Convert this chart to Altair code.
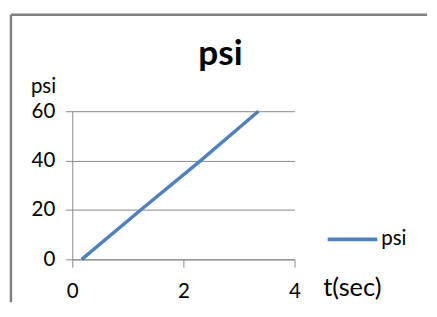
import altair as alt
import pandas as pd

# data
t_sec = [0.17, 1.23, 2.31, 3.35]
psi = [0, 20, 40, 60]
series = ["psi", "psi", "psi", "psi"]
x_ticks = [0, 2, 4]
y_ticks = [0, 20, 40, 60]

FONT = "Lato"
BLUE = "#4F81BD"
GRAY = "#868686"
BORDER = "#808080"

df = pd.DataFrame({"t": t_sec, "psi": psi, "series": series})
one = pd.DataFrame({"k": [0]})

line = alt.Chart(df).mark_line(strokeWidth=3.5, color=BLUE).encode(
    x=alt.X("t:Q",
            scale=alt.Scale(domain=[0, 4], nice=False, zero=False),
            axis=alt.Axis(values=x_ticks, grid=False, format="d",
                          title="t(sec)", titleX=257, titleY=37,
                          titleAlign="left", titleBaseline="alphabetic",
                          titleFontSize=26, titleFontWeight="normal",
                          tickSize=8, labelPadding=14, labelFontSize=21,
                          labelFlush=False)),
    y=alt.Y("psi:Q",
            scale=alt.Scale(domain=[0, 60], nice=False),
            axis=alt.Axis(values=y_ticks, grid=True, format="d",
                          title="psi", titleAngle=0, titleX=-43, titleY=-19,
                          titleAlign="left", titleBaseline="alphabetic",
                          titleFontSize=21, titleFontWeight="normal",
                          tickSize=7, labelPadding=11, labelFontSize=21)),
    color=alt.Color("series:N", title=None,
                    scale=alt.Scale(range=[BLUE]),
                    legend=alt.Legend(orient="none", legendX=260, legendY=104,
                                      symbolType="stroke", symbolStrokeWidth=4,
                                      symbolSize=2600, labelFontSize=21,
                                      labelOffset=2, labelColor="#000",
                                      labelFont=FONT, padding=0)),
)

title = alt.Chart(one).mark_text(
    text="psi", font=FONT, fontSize=36, fontWeight="bold", color="#000",
    align="center", baseline="alphabetic"
).encode(x=alt.value(152), y=alt.value(-47))

border_top = alt.Chart(one).mark_rule(color=BORDER, strokeWidth=2.5).encode(
    x=alt.value(-63), x2=alt.value(364), y=alt.value(-99))
border_left = alt.Chart(one).mark_rule(color=BORDER, strokeWidth=2.5).encode(
    x=alt.value(-63), y=alt.value(-99), y2=alt.value(196))

chart = alt.layer(border_top, border_left, line, title).properties(
    width=228, height=152,
    padding={"left": 1, "top": 1, "right": 0, "bottom": 0},
).configure_view(stroke=None).configure_axis(
    domainColor=GRAY, tickColor=GRAY, gridColor=GRAY,
    labelColor="#000", titleColor="#000", labelFont=FONT, titleFont=FONT,
)

chart.save("out.html", embed_options={"renderer": "svg", "actions": False})
